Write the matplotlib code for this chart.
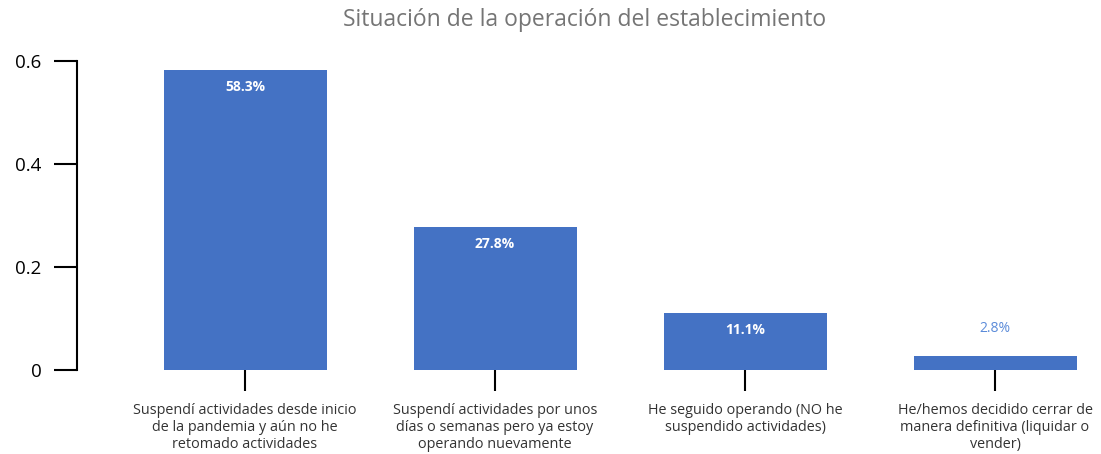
import matplotlib.pyplot as plt

plt.rcParams['font.family'] = ['Open Sans', 'DejaVu Sans']

# Data
categories = [
    "Suspendí actividades desde inicio\nde la pandemia y aún no he\nretomado actividades",
    "Suspendí actividades por unos\ndías o semanas pero ya estoy\noperando nuevamente",
    "He seguido operando (NO he\nsuspendido actividades)",
    "He/hemos decidido cerrar de\nmanera definitiva (liquidar o\nvender)",
]
values = [0.583, 0.278, 0.111, 0.028]
labels = ["58.3%", "27.8%", "11.1%", "2.8%"]
title = "Situación de la operación del establecimiento"

bar_color = "#4472C4"

fig = plt.figure(figsize=(11.01, 4.54), dpi=100)
ax = fig.add_axes([77 / 1101, 1 - 370 / 454, 1 - 77 / 1101, (370 - 61) / 454])

x = list(range(len(values)))
bars = ax.bar(x, values, width=0.652, color=bar_color)

for xi, v, lab in zip(x, values, labels):
    if v > 0.05:
        ax.annotate(lab, (xi, v), xytext=(0, -7.5), textcoords="offset points",
                    ha="center", va="top", color="white", fontsize=10, fontweight="bold")
    else:
        ax.annotate(lab, (xi, v), xytext=(0, 14), textcoords="offset points",
                    ha="center", va="bottom", color="#5B8BD9", fontsize=10)

ax.set_xlim(-0.672, 3.424)
ax.set_ylim(0, 0.6)
ax.set_yticks([0, 0.2, 0.4, 0.6])
ax.set_yticklabels(["0", "0.2", "0.4", "0.6"])
ax.set_xticks(x)
ax.set_xticklabels(categories, fontsize=10.4, color="#333333", linespacing=1.15)

for s in ["top", "right", "bottom"]:
    ax.spines[s].set_visible(False)
ax.spines["left"].set_linewidth(1.5)

ax.tick_params(axis="y", length=16.5, width=1.5, pad=9, labelsize=13.5, colors="black")
ax.tick_params(axis="x", length=15, width=1.5, pad=9, color="black")

fig.text(585 / 1101, 1 - 20 / 454, title, ha="center", va="center",
         fontsize=16.5, color="#757575")

fig.savefig("out.png", dpi=100)
